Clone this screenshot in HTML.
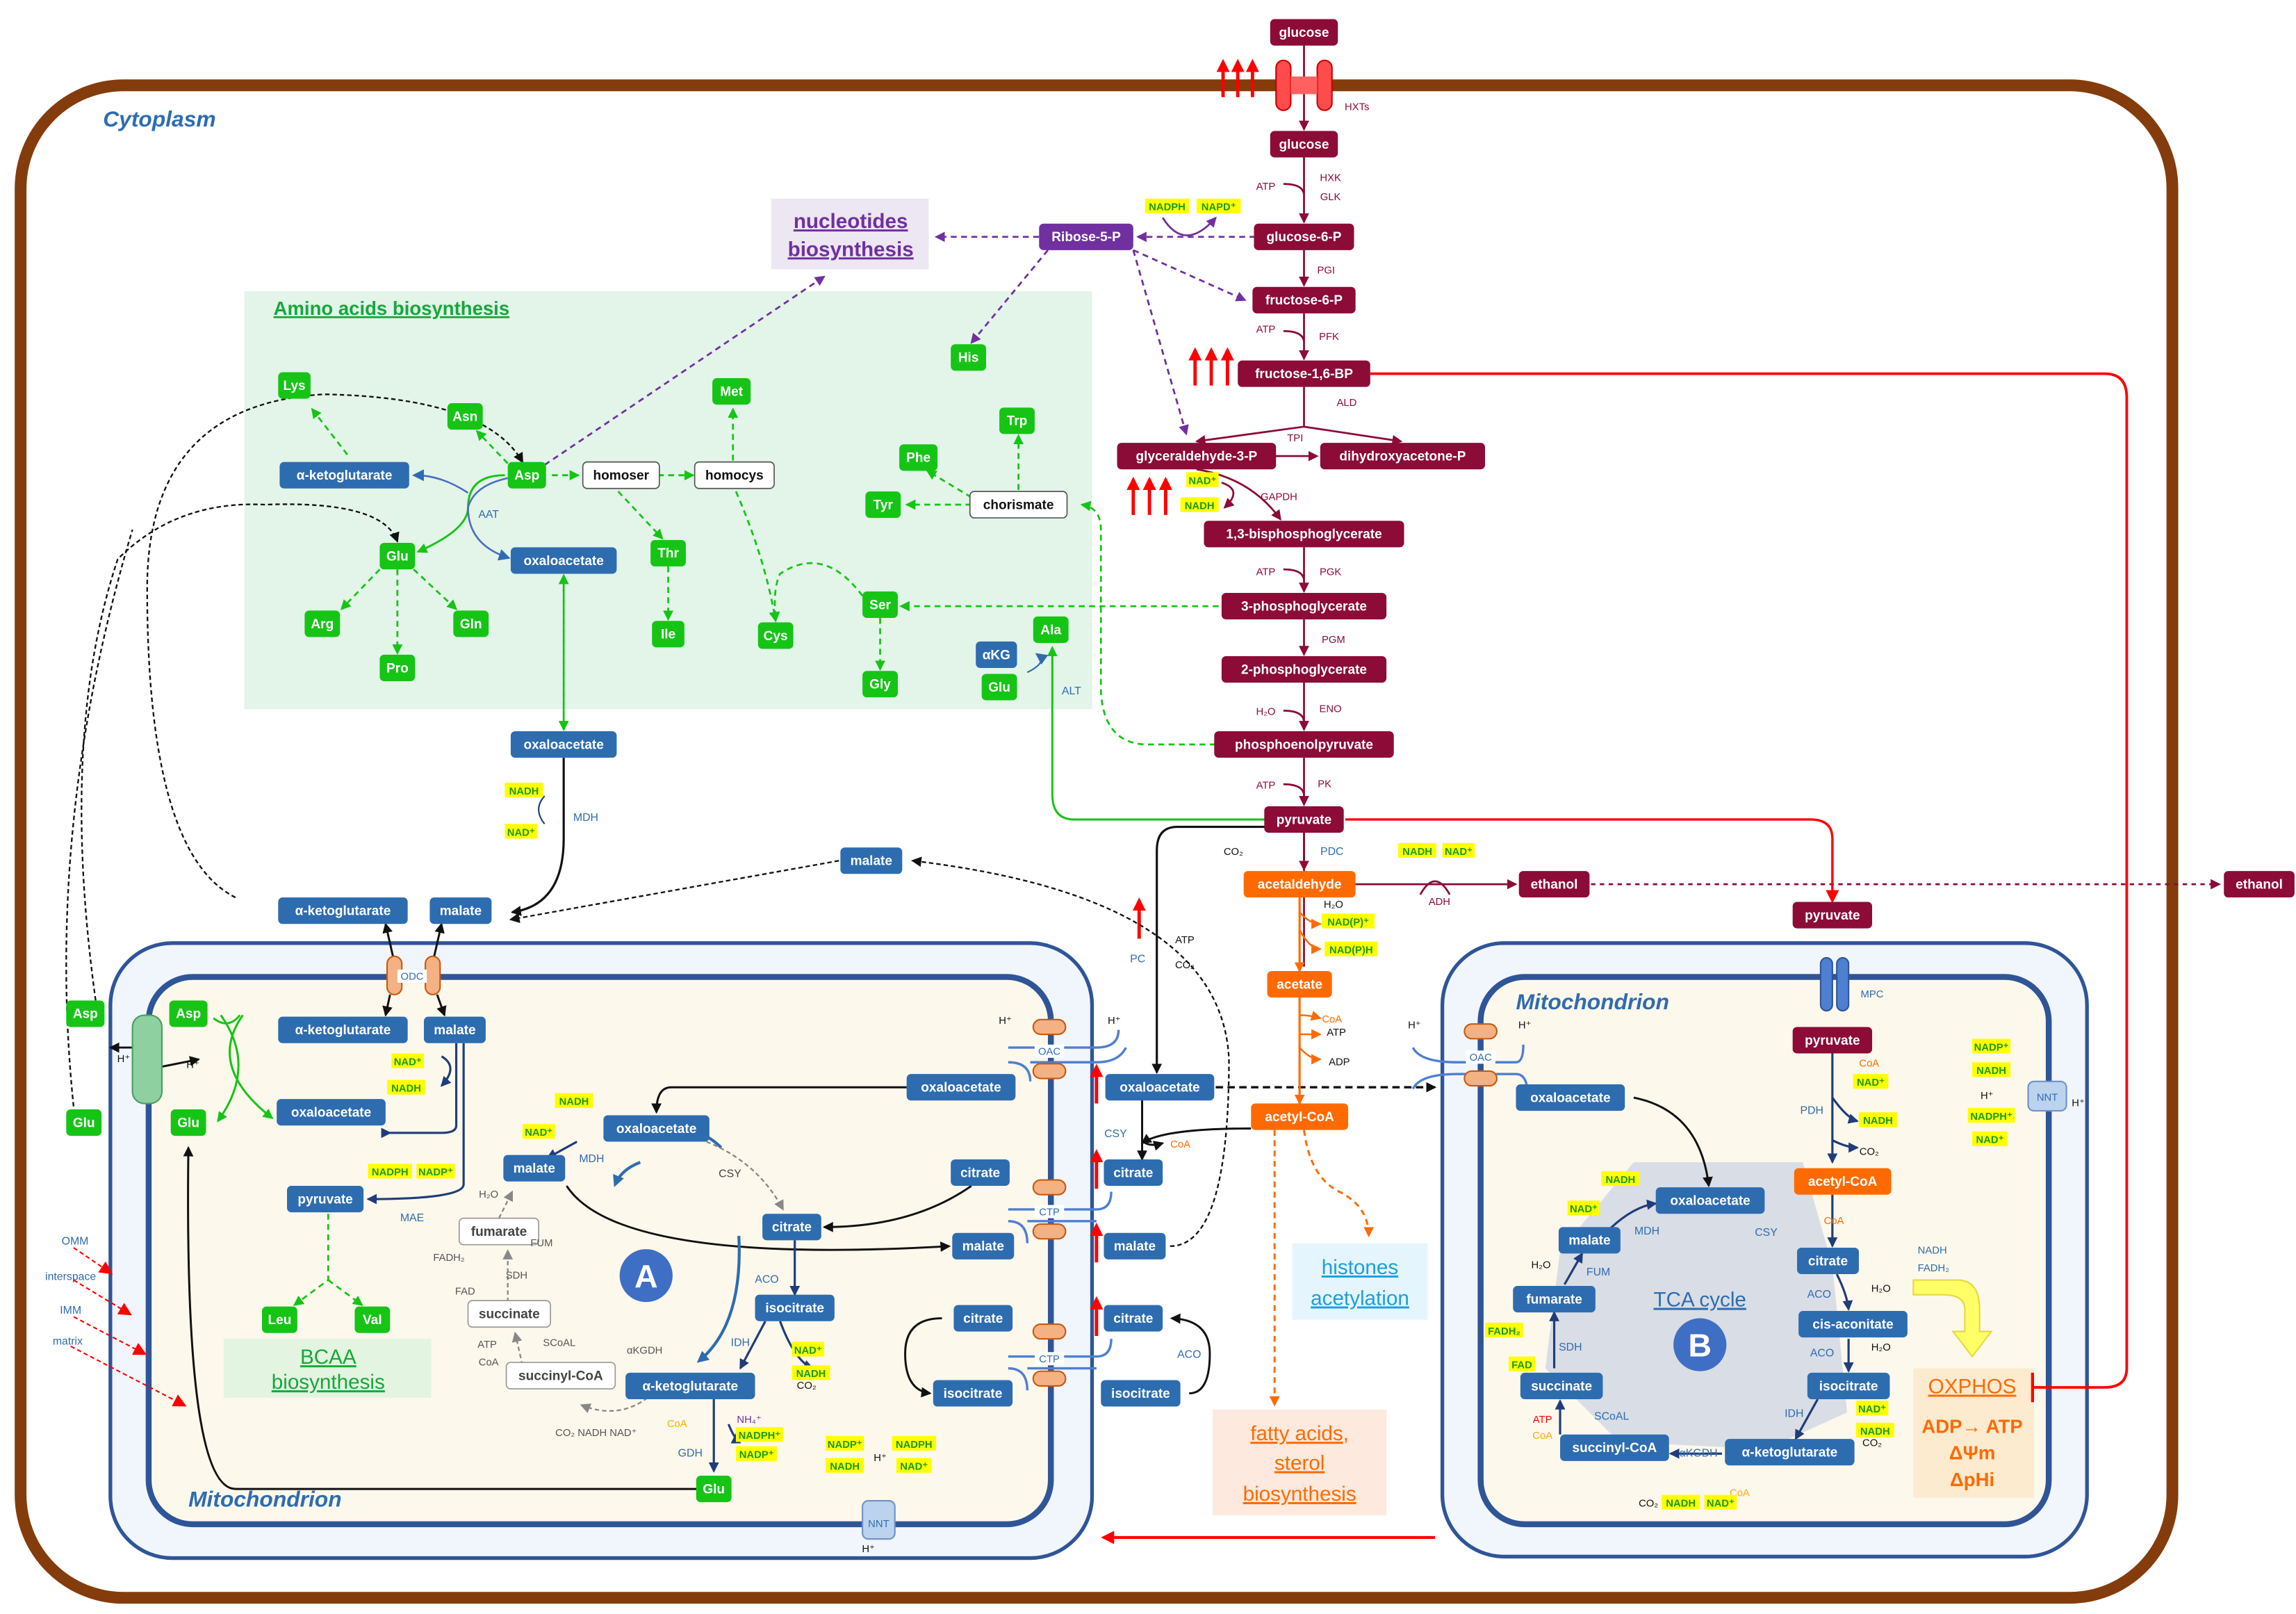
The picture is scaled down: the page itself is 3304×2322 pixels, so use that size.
<!DOCTYPE html>
<html><head><meta charset="utf-8"><style>
html,body{margin:0;padding:0;background:#fff}
svg{display:block}
text{font-family:"Liberation Sans Narrow","Liberation Sans",sans-serif}
.n text{fill:#fff;font-weight:bold;font-size:9px;text-anchor:middle}
.m rect{fill:#8c0b37}.b rect{fill:#2e6cb0}.g rect{fill:#16c416}.o rect{fill:#ff6a00}.p rect{fill:#7030a0}
.w rect{fill:#fff;stroke:#555;stroke-width:.8}.w text{fill:#111}
.gw rect{fill:#fff;stroke:#999;stroke-width:.8}.gw text{fill:#444}
.e{font-size:7.5px;fill:#2e6cb0;text-anchor:middle}
.em{font-size:7px;fill:#8c0b37;text-anchor:middle}
.y{fill:#ffff00}
.yt{font-size:7px;fill:#1a9a1a;font-weight:bold;text-anchor:middle}
.sm{font-size:7px;fill:#111;text-anchor:middle}
.M path{stroke:#8c0b37;fill:none;stroke-width:1.3;marker-end:url(#am)}
.P path{stroke:#7030a0;fill:none;stroke-width:1.3;stroke-dasharray:4,3;marker-end:url(#ap)}
.R path{stroke:#f00;fill:none;stroke-width:2.3;marker-end:url(#ar)}
.G path{stroke:#16c416;fill:none;stroke-width:1.3;stroke-dasharray:4,3;marker-end:url(#ag)}
.N path{stroke:#1f3d7a;fill:none;stroke-width:1.5;marker-end:url(#an)}
.K path{stroke:#111;fill:none;stroke-width:1.4;marker-end:url(#ab)}
.O path{stroke:#ff6a00;fill:none;stroke-width:1.2;marker-end:url(#ao)}
.Y path{stroke:#888;fill:none;stroke-width:1.1;stroke-dasharray:3,2;marker-end:url(#aG)}
.T path{stroke:#f00;fill:none;stroke-width:1;stroke-dasharray:3,2;marker-end:url(#ar)}
</style></head><body>
<svg width="3304" height="2322" viewBox="0 0 1560 1097" preserveAspectRatio="none" xmlns="http://www.w3.org/2000/svg">
<defs>
<marker id="ab" markerUnits="userSpaceOnUse" markerWidth="7" markerHeight="7" refX="6" refY="3.5" orient="auto"><path d="M0,0L7,3.5L0,7z" fill="#111"/></marker>
<marker id="am" markerUnits="userSpaceOnUse" markerWidth="7" markerHeight="7" refX="6" refY="3.5" orient="auto"><path d="M0,0L7,3.5L0,7z" fill="#8c0b37"/></marker>
<marker id="ag" markerUnits="userSpaceOnUse" markerWidth="7" markerHeight="7" refX="6" refY="3.5" orient="auto"><path d="M0,0L7,3.5L0,7z" fill="#16c416"/></marker>
<marker id="ap" markerUnits="userSpaceOnUse" markerWidth="7" markerHeight="7" refX="6" refY="3.5" orient="auto"><path d="M0,0L7,3.5L0,7z" fill="#7030a0"/></marker>
<marker id="ao" markerUnits="userSpaceOnUse" markerWidth="7" markerHeight="7" refX="6" refY="3.5" orient="auto"><path d="M0,0L7,3.5L0,7z" fill="#ff6a00"/></marker>
<marker id="an" markerUnits="userSpaceOnUse" markerWidth="7" markerHeight="7" refX="6" refY="3.5" orient="auto"><path d="M0,0L7,3.5L0,7z" fill="#1f3d7a"/></marker>
<marker id="ar" markerUnits="userSpaceOnUse" markerWidth="9" markerHeight="9" refX="7" refY="4.5" orient="auto"><path d="M0,0L9,4.5L0,9z" fill="#f00"/></marker>
<marker id="al" markerUnits="userSpaceOnUse" markerWidth="8" markerHeight="8" refX="6" refY="4" orient="auto"><path d="M0,0L8,4L0,8z" fill="#2e6cb0"/></marker>
<marker id="aG" markerUnits="userSpaceOnUse" markerWidth="7" markerHeight="7" refX="6" refY="3.5" orient="auto"><path d="M0,0L7,3.5L0,7z" fill="#888"/></marker>
</defs>

<rect x="14" y="58" width="1462" height="1028" rx="70" fill="#fff" stroke="#843c0c" stroke-width="8"/>
<text x="70" y="86" font-size="15" font-style="italic" font-weight="bold" fill="#2e6cb0">Cytoplasm</text>

<rect x="166" y="198" width="576" height="284" fill="#e3f4e9"/>
<text x="266" y="214" font-size="13" font-weight="bold" fill="#16a83a" text-anchor="middle" text-decoration="underline">Amino acids biosynthesis</text>

<rect x="524" y="135" width="107" height="48" fill="#ede6f3"/>
<text x="578" y="155" font-size="14" font-weight="bold" fill="#7030a0" text-anchor="middle" text-decoration="underline">nucleotides</text>
<text x="578" y="174" font-size="14" font-weight="bold" fill="#7030a0" text-anchor="middle" text-decoration="underline">biosynthesis</text>

<rect x="75" y="641" width="667" height="418" rx="42" fill="#f1f5fc" stroke="#2f5597" stroke-width="2.5"/>
<rect x="101" y="664" width="613" height="372" rx="30" fill="#fdf8ec" stroke="#2f5597" stroke-width="4"/>
<text x="128" y="1024" font-size="15" font-style="italic" font-weight="bold" fill="#2e6cb0">Mitochondrion</text>

<rect x="980" y="641" width="438" height="417" rx="42" fill="#f1f5fc" stroke="#2f5597" stroke-width="2.5"/>
<rect x="1006" y="664" width="386" height="372" rx="30" fill="#fdf8ec" stroke="#2f5597" stroke-width="4"/>
<text x="1030" y="686" font-size="15" font-style="italic" font-weight="bold" fill="#2e6cb0">Mitochondrion</text>
<path d="M1110,790 L1225,790 L1245,860 L1255,960 L1200,985 L1100,980 L1050,930 L1060,850 Z" fill="#d9dde5"/>
<text x="1155" y="888" font-size="14" fill="#2e6cb0" text-anchor="middle" text-decoration="underline">TCA cycle</text>
<circle cx="1155" cy="914" r="18" fill="#3f6fc4"/><text x="1155" y="922" font-size="22" font-weight="bold" fill="#fff" text-anchor="middle">B</text>
<circle cx="439" cy="867" r="18" fill="#3f6fc4"/><text x="439" y="875" font-size="22" font-weight="bold" fill="#fff" text-anchor="middle">A</text>

<rect x="878" y="845" width="92" height="52" fill="#e5f5fd"/>
<text x="924" y="866" font-size="14" fill="#1aa0e0" text-anchor="middle" text-decoration="underline">histones</text>
<text x="924" y="887" font-size="14" fill="#1aa0e0" text-anchor="middle" text-decoration="underline">acetylation</text>
<rect x="824" y="958" width="118" height="72" fill="#fde9dd"/>
<text x="883" y="979" font-size="14" fill="#ff6a00" text-anchor="middle" text-decoration="underline">fatty acids,</text>
<text x="883" y="999" font-size="14" fill="#ff6a00" text-anchor="middle" text-decoration="underline">sterol</text>
<text x="883" y="1020" font-size="14" fill="#ff6a00" text-anchor="middle" text-decoration="underline">biosynthesis</text>
<rect x="152" y="910" width="141" height="40" fill="#e3f4e0"/>
<text x="223" y="927" font-size="14" fill="#16a83a" text-anchor="middle" text-decoration="underline">BCAA</text>
<text x="223" y="944" font-size="14" fill="#16a83a" text-anchor="middle" text-decoration="underline">biosynthesis</text>
<rect x="1300" y="930" width="82" height="88" fill="#fdebd0"/>
<text x="1340" y="947" font-size="14" fill="#ff6a00" text-anchor="middle" text-decoration="underline">OXPHOS</text>
<text x="1340" y="974" font-size="13" font-weight="bold" fill="#ff6a00" text-anchor="middle">ADP→ ATP</text>
<text x="1340" y="992" font-size="13" font-weight="bold" fill="#ff6a00" text-anchor="middle">ΔΨm</text>
<text x="1340" y="1010" font-size="13" font-weight="bold" fill="#ff6a00" text-anchor="middle">ΔpHi</text>
<path d="M1300,870 L1330,870 Q1345,870 1345,890 L1345,905 L1353,905 L1340,922 L1327,905 L1335,905 L1335,890 Q1335,880 1320,880 L1300,880 Z" fill="#ffff66" stroke="#e8d840"/>
<text x="1303" y="852" font-size="7" fill="#2e6cb0">NADH</text><text x="1303" y="864" font-size="7" fill="#2e6cb0">FADH₂</text>

<g class="M">
<path d="M886,31V88"/><path d="M886,107V151"/><path d="M886,170V194"/><path d="M886,213V244"/>
<path d="M886,263V290L813,300"/><path d="M886,290L952,300"/><path d="M846,310H895"/><path d="M813,319Q850,325 870,353"/>
<path d="M886,372V402"/><path d="M886,421V445"/><path d="M886,464V496"/><path d="M886,515V547"/><path d="M886,566V591"/>
<path d="M921,601H1030"/><path d="M1081,601H1508" stroke-dasharray="3,3"/>
<path d="M872,125Q885,125 886,132" style="marker-end:none"/><path d="M872,225Q885,225 886,232" style="marker-end:none"/><path d="M872,387Q885,387 886,394" style="marker-end:none"/><path d="M872,533Q885,533 886,540" style="marker-end:none"/><path d="M872,483Q885,483 886,490" style="marker-end:none"/>
<path d="M830,328Q845,333 832,345"/>
<path d="M965,608Q975,590 985,608" style="marker-end:none"/>
</g>
<path d="M886,566V657" stroke="#8c0b37" stroke-width="1.3" fill="none"/>
<g class="P">
<path d="M790,148Q805,172 826,148" style="stroke-dasharray:none"/>
<path d="M853,161H773"/><path d="M706,161H636"/><path d="M770,170L846,204"/><path d="M770,170L806,295"/><path d="M712,170L660,233"/><path d="M370,316L560,188"/>
</g>
<g fill="none">
<path d="M931,254H1430Q1445,254 1445,270V930Q1445,943 1430,943H1382" stroke="#f00" stroke-width="1.8"/>
<path d="M1381,933V953" stroke="#f00" stroke-width="2"/>
</g>
<g class="R">
<path d="M914,557H1230Q1245,557 1245,570V612" style="stroke-width:1.6"/>
<path d="M975,1045H750" style="stroke-width:2"/>
<path d="M774,638V612"/>
<path d="M745,750V725"/><path d="M745,808V783"/><path d="M745,858V833"/><path d="M745,908V883"/>
<path d="M831,66V42"/><path d="M841,66V42"/><path d="M851,66V42"/>
<path d="M812,262V238"/><path d="M823,262V238"/><path d="M834,262V238"/>
<path d="M770,350V326"/><path d="M781,350V326"/><path d="M792,350V326"/>
</g>
<path d="M860,557H730Q715,557 715,540V440" stroke="#16c416" stroke-width="1.4" fill="none" marker-end="url(#ag)"/>
<g class="G">
<path d="M236,309L212,278"/><path d="M345,315L324,293"/><path d="M498,313V278"/><path d="M454,385V421"/><path d="M420,334L450,366"/><path d="M500,334Q520,380 527,422"/><path d="M598,420V455"/><path d="M692,333V296"/><path d="M660,343H616"/><path d="M660,338L630,320"/>
<path d="M828,412H612"/><path d="M826,506H780Q750,506 748,470L748,360Q748,345 735,343"/><path d="M586,405Q560,370 530,390Q525,400 527,422"/>
<path d="M383,391V496"/><path d="M383,496V391"/><path d="M258,387L232,414"/><path d="M270,387V444"/><path d="M281,387L310,414"/><path d="M375,323H393"/><path d="M447,323H471"/>
<path d="M223,825V870L200,887"/><path d="M223,870L246,887"/>
</g>
<path d="M343,323Q318,323 318,345Q318,360 284,375" stroke="#16c416" stroke-width="1.4" fill="none" marker-end="url(#ag)"/>
<path d="M150,690Q175,725 148,762" stroke="#16c416" stroke-width="1.4" fill="none" marker-end="url(#ag)"/>
<path d="M165,690Q140,725 185,760" stroke="#16c416" stroke-width="1.4" fill="none" marker-end="url(#ag)"/>
<path d="M163,690Q155,700 145,692" stroke="#16c416" stroke-width="1.4" fill="none"/>
<path d="M698,457Q712,450 705,445" stroke="#2e6cb0" fill="none" marker-end="url(#al)"/>
<path d="M345,325Q322,330 318,345Q318,370 345,379" stroke="#4a6dc0" stroke-width="1.2" fill="none" marker-end="url(#al)"/>
<path d="M318,335Q300,323 282,323" stroke="#4a6dc0" stroke-width="1.2" fill="none" marker-end="url(#al)"/>
<g class="K">
<path d="M160,610Q100,580 100,400Q100,275 220,268Q330,270 355,314" stroke-dasharray="3,2" style="stroke-width:1.1"/>
<path d="M65,680Q40,500 80,380Q120,340 180,343Q260,340 270,368" stroke-dasharray="3,2" style="stroke-width:1.1"/>
<path d="M50,752Q30,560 90,360" stroke-dasharray="3,2" style="marker-end:none;stroke-width:1.1"/>
<path d="M570,585L347,625" stroke-dasharray="3,2" style="stroke-width:1.1"/>
<path d="M795,847Q835,847 835,720Q830,610 620,585" stroke-dasharray="3,2" style="stroke-width:1.1"/>
<path d="M826,739H975" stroke-dasharray="5,3" style="stroke-width:1.6"/>
<path d="M383,515V570Q383,615 348,620" style="stroke-width:1.5"/>
<path d="M860,562H800Q786,562 786,578V729" style="stroke-width:1.5"/>
<path d="M850,767Q790,767 776,777"/><path d="M776,747V788"/><path d="M776,775Q780,780 790,777"/>
<path d="M486,1012H160Q125,1012 128,780"/>
<path d="M616,739H456Q446,739 446,756"/>
<path d="M660,806Q620,834 560,834"/>
<path d="M385,806Q420,860 645,847"/>
<path d="M640,896Q615,896 615,920Q615,945 632,947"/>
<path d="M808,947Q822,947 822,920Q822,897 796,896"/>
<path d="M1110,746Q1155,755 1161,806"/>
<path d="M267,650L262,628"/><path d="M295,650L300,628"/><path d="M265,676L262,690"/><path d="M297,676L302,690"/>
<path d="M110,712L75,712"/><path d="M110,725L135,720"/>
</g>
<path d="M370,541Q362,550 370,560" stroke="#1f3d7a" fill="none"/>
<g class="N">
<path d="M540,843V880"/><path d="M520,898L503,930"/><path d="M310,709V765Q310,770 300,770Q260,770 265,770"/><path d="M300,718Q312,725 300,738"/><path d="M315,709V805Q315,815 250,815"/><path d="M485,951V1000"/>
<path d="M1245,716V790"/><path d="M1245,746Q1255,760 1262,762"/><path d="M1245,775Q1255,780 1262,780"/><path d="M1245,812V847"/><path d="M1248,866Q1255,880 1256,890"/><path d="M1256,910V932"/><path d="M1235,951L1220,978"/><path d="M1170,988L1135,988"/><path d="M1060,975V952"/><path d="M1056,930V892"/><path d="M1063,873L1075,852"/><path d="M1094,835Q1110,820 1125,818"/><path d="M392,776L372,787"/>
<path d="M530,898Q540,925 552,930"/><path d="M495,968Q500,980 500,975"/>
</g>
<path d="M445,775Q470,760 490,780" stroke="#2e6cb0" stroke-width="2" fill="none"/>
<path d="M435,790Q422,795 418,805" stroke="#2e6cb0" stroke-width="2" fill="none" marker-end="url(#al)"/>
<path d="M502,840Q505,900 475,925" stroke="#2e6cb0" stroke-width="2" fill="none" marker-end="url(#al)"/>
<g class="Y">
<path d="M480,776Q515,790 532,822"/><path d="M345,885V850"/><path d="M355,928L350,906"/><path d="M440,950Q420,965 395,955"/><path d="M339,828L348,810"/>
</g>
<g class="O">
<path d="M883,610V660" style="stroke-width:1.5"/><path d="M883,678V750" style="stroke-width:1.5"/>
<path d="M883,620Q890,628 897,628"/><path d="M883,632Q890,645 897,645"/><path d="M883,690Q890,690 897,692"/><path d="M883,703Q890,703 897,703"/><path d="M883,712Q890,720 897,720"/>
<path d="M866,768V955" stroke-dasharray="4,3" style="stroke-width:1.4"/>
<path d="M886,768Q890,800 910,810Q930,820 930,840" stroke-dasharray="4,3" style="stroke-width:1.4"/>
</g>
<g fill="none" stroke="#4f7fd0" stroke-width="1.6">
<path d="M685,712H745Q760,712 760,700"/><path d="M685,722Q700,722 700,735M700,722H745Q760,722 765,712"/>
<path d="M685,822H745Q755,822 755,810"/><path d="M685,830Q698,830 698,845M698,830H745"/>
<path d="M685,922H745Q755,922 755,910"/><path d="M685,930Q698,930 698,945M698,930H745"/>
<path d="M960,712Q965,722 990,722H1030Q1035,722 1035,710"/><path d="M960,740Q965,730 990,730H1030Q1038,730 1038,745"/>
</g>
<g class="T">
<path d="M50,848L75,865"/><path d="M50,870L88,893"/><path d="M50,895L98,920"/><path d="M48,915L125,955"/>
</g>

<g>
<rect x="867" y="41" width="10" height="34" rx="5" fill="#ff4b4b" stroke="#c00"/><rect x="895" y="41" width="10" height="34" rx="5" fill="#ff4b4b" stroke="#c00"/><rect x="877" y="52" width="18" height="12" fill="#ff6060"/>
<rect x="1237" y="651" width="8" height="36" rx="4" fill="#4f7fd0" stroke="#2f5597"/><rect x="1248" y="651" width="8" height="36" rx="4" fill="#4f7fd0" stroke="#2f5597"/>
<rect x="263" y="650" width="10" height="26" rx="5" fill="#f4b183" stroke="#c55a11"/><rect x="289" y="650" width="10" height="26" rx="5" fill="#f4b183" stroke="#c55a11"/>
<rect x="90" y="690" width="20" height="60" rx="8" fill="#8fd0a0" stroke="#4a9d60"/>
<g fill="#f4b183" stroke="#c55a11"><rect x="702" y="693" width="22" height="10" rx="5"/><rect x="702" y="723" width="22" height="10" rx="5"/><rect x="702" y="802" width="22" height="10" rx="5"/><rect x="702" y="832" width="22" height="10" rx="5"/><rect x="702" y="900" width="22" height="10" rx="5"/><rect x="702" y="932" width="22" height="10" rx="5"/><rect x="995" y="696" width="22" height="10" rx="5"/><rect x="995" y="728" width="22" height="10" rx="5"/></g>
<rect x="586" y="1020" width="22" height="26" rx="4" fill="#bcd3ee" stroke="#6f91c8"/>
<rect x="1378" y="735" width="26" height="20" rx="4" fill="#bcd3ee" stroke="#6f91c8"/>
</g>
<g font-size="7" fill="#2e6cb0" text-anchor="middle"><rect x="270" y="659" width="20" height="9" fill="#fff"/><text x="280" y="666">ODC</text><rect x="703" y="710" width="20" height="9" fill="#fff"/><text x="713" y="717">OAC</text><rect x="703" y="819" width="20" height="9" fill="#fff"/><text x="713" y="826">CTP</text><rect x="703" y="919" width="20" height="9" fill="#fff"/><text x="713" y="926">CTP</text><rect x="996" y="714" width="20" height="9" fill="#fff"/><text x="1006" y="721">OAC</text><text x="597" y="1038">NNT</text><text x="1391" y="748">NNT</text><text x="1272" y="678">MPC</text></g>

<g class="n m">
<rect x="863" y="13" width="46" height="18" rx="3"/><text x="886" y="25">glucose</text>
<rect x="863" y="89" width="46" height="18" rx="3"/><text x="886" y="101">glucose</text>
<rect x="852" y="152" width="68" height="18" rx="3"/><text x="886" y="164">glucose-6-P</text>
<rect x="851" y="195" width="70" height="18" rx="3"/><text x="886" y="207">fructose-6-P</text>
<rect x="841" y="245" width="90" height="18" rx="3"/><text x="886" y="257">fructose-1,6-BP</text>
<rect x="759" y="301" width="108" height="18" rx="3"/><text x="813" y="313">glyceraldehyde-3-P</text>
<rect x="897" y="301" width="112" height="18" rx="3"/><text x="953" y="313">dihydroxyacetone-P</text>
<rect x="818" y="354" width="136" height="18" rx="3"/><text x="886" y="366">1,3-bisphosphoglycerate</text>
<rect x="830" y="403" width="112" height="18" rx="3"/><text x="886" y="415">3-phosphoglycerate</text>
<rect x="830" y="446" width="112" height="18" rx="3"/><text x="886" y="458">2-phosphoglycerate</text>
<rect x="825" y="497" width="122" height="18" rx="3"/><text x="886" y="509">phosphoenolpyruvate</text>
<rect x="859" y="548" width="54" height="18" rx="3"/><text x="886" y="560">pyruvate</text>
<rect x="1032" y="592" width="48" height="18" rx="3"/><text x="1056" y="604">ethanol</text>
<rect x="1511" y="592" width="48" height="18" rx="3"/><text x="1535" y="604">ethanol</text>
<rect x="1218" y="613" width="54" height="18" rx="3"/><text x="1245" y="625">pyruvate</text>
<rect x="1218" y="698" width="54" height="18" rx="3"/><text x="1245" y="710">pyruvate</text>
</g>
<g class="n p"><rect x="706" y="152" width="64" height="18" rx="3"/><text x="738" y="164">Ribose-5-P</text></g>
<g class="n o">
<rect x="845" y="592" width="76" height="18" rx="3"/><text x="883" y="604">acetaldehyde</text>
<rect x="861" y="660" width="44" height="18" rx="3"/><text x="883" y="672">acetate</text>
<rect x="850" y="750" width="66" height="18" rx="3"/><text x="883" y="762">acetyl-CoA</text>
<rect x="1219" y="794" width="66" height="18" rx="3"/><text x="1252" y="806">acetyl-CoA</text>
</g>
<g class="n b">
<rect x="190" y="314" width="88" height="18" rx="3"/><text x="234" y="326">α-ketoglutarate</text>
<rect x="347" y="372" width="72" height="18" rx="3"/><text x="383" y="384">oxaloacetate</text>
<rect x="347" y="497" width="72" height="18" rx="3"/><text x="383" y="509">oxaloacetate</text>
<rect x="663" y="436" width="28" height="18" rx="3"/><text x="677" y="448">αKG</text>
<rect x="189" y="610" width="88" height="18" rx="3"/><text x="233" y="622">α-ketoglutarate</text>
<rect x="292" y="610" width="42" height="18" rx="3"/><text x="313" y="622">malate</text>
<rect x="571" y="576" width="42" height="18" rx="3"/><text x="592" y="588">malate</text>
<rect x="189" y="691" width="88" height="18" rx="3"/><text x="233" y="703">α-ketoglutarate</text>
<rect x="288" y="691" width="42" height="18" rx="3"/><text x="309" y="703">malate</text>
<rect x="188" y="747" width="74" height="18" rx="3"/><text x="225" y="759">oxaloacetate</text>
<rect x="195" y="806" width="52" height="18" rx="3"/><text x="221" y="818">pyruvate</text>
<rect x="410" y="758" width="72" height="18" rx="3"/><text x="446" y="770">oxaloacetate</text>
<rect x="342" y="785" width="42" height="18" rx="3"/><text x="363" y="797">malate</text>
<rect x="518" y="825" width="40" height="18" rx="3"/><text x="538" y="837">citrate</text>
<rect x="513" y="880" width="54" height="18" rx="3"/><text x="540" y="892">isocitrate</text>
<rect x="425" y="933" width="88" height="18" rx="3"/><text x="469" y="945">α-ketoglutarate</text>
<rect x="616" y="730" width="74" height="18" rx="3"/><text x="653" y="742">oxaloacetate</text>
<rect x="646" y="788" width="40" height="18" rx="3"/><text x="666" y="800">citrate</text>
<rect x="647" y="838" width="42" height="18" rx="3"/><text x="668" y="850">malate</text>
<rect x="648" y="887" width="40" height="18" rx="3"/><text x="668" y="899">citrate</text>
<rect x="634" y="938" width="54" height="18" rx="3"/><text x="661" y="950">isocitrate</text>
<rect x="751" y="730" width="74" height="18" rx="3"/><text x="788" y="742">oxaloacetate</text>
<rect x="750" y="788" width="40" height="18" rx="3"/><text x="770" y="800">citrate</text>
<rect x="750" y="838" width="42" height="18" rx="3"/><text x="771" y="850">malate</text>
<rect x="750" y="887" width="40" height="18" rx="3"/><text x="770" y="899">citrate</text>
<rect x="748" y="938" width="54" height="18" rx="3"/><text x="775" y="950">isocitrate</text>
<rect x="1030" y="737" width="74" height="18" rx="3"/><text x="1067" y="749">oxaloacetate</text>
<rect x="1125" y="807" width="74" height="18" rx="3"/><text x="1162" y="819">oxaloacetate</text>
<rect x="1059" y="834" width="42" height="18" rx="3"/><text x="1080" y="846">malate</text>
<rect x="1028" y="874" width="56" height="18" rx="3"/><text x="1056" y="886">fumarate</text>
<rect x="1033" y="933" width="56" height="18" rx="3"/><text x="1061" y="945">succinate</text>
<rect x="1060" y="975" width="74" height="18" rx="3"/><text x="1097" y="987">succinyl-CoA</text>
<rect x="1172" y="978" width="88" height="18" rx="3"/><text x="1216" y="990">α-ketoglutarate</text>
<rect x="1228" y="933" width="56" height="18" rx="3"/><text x="1256" y="945">isocitrate</text>
<rect x="1222" y="891" width="74" height="18" rx="3"/><text x="1259" y="903">cis-aconitate</text>
<rect x="1221" y="848" width="42" height="18" rx="3"/><text x="1242" y="860">citrate</text>
</g>
<g class="n g">
<rect x="189" y="253" width="22" height="18" rx="3"/><text x="200" y="265">Lys</text>
<rect x="304" y="274" width="24" height="18" rx="3"/><text x="316" y="286">Asn</text>
<rect x="345" y="314" width="26" height="18" rx="3"/><text x="358" y="326">Asp</text>
<rect x="484" y="257" width="26" height="18" rx="3"/><text x="497" y="269">Met</text>
<rect x="646" y="234" width="24" height="18" rx="3"/><text x="658" y="246">His</text>
<rect x="679" y="277" width="24" height="18" rx="3"/><text x="691" y="289">Trp</text>
<rect x="611" y="302" width="26" height="18" rx="3"/><text x="624" y="314">Phe</text>
<rect x="588" y="334" width="24" height="18" rx="3"/><text x="600" y="346">Tyr</text>
<rect x="258" y="369" width="24" height="18" rx="3"/><text x="270" y="381">Glu</text>
<rect x="442" y="367" width="24" height="18" rx="3"/><text x="454" y="379">Thr</text>
<rect x="443" y="422" width="22" height="18" rx="3"/><text x="454" y="434">Ile</text>
<rect x="207" y="415" width="24" height="18" rx="3"/><text x="219" y="427">Arg</text>
<rect x="308" y="415" width="24" height="18" rx="3"/><text x="320" y="427">Gln</text>
<rect x="258" y="445" width="24" height="18" rx="3"/><text x="270" y="457">Pro</text>
<rect x="515" y="423" width="24" height="18" rx="3"/><text x="527" y="435">Cys</text>
<rect x="586" y="402" width="24" height="18" rx="3"/><text x="598" y="414">Ser</text>
<rect x="586" y="456" width="24" height="18" rx="3"/><text x="598" y="468">Gly</text>
<rect x="702" y="419" width="24" height="18" rx="3"/><text x="714" y="431">Ala</text>
<rect x="667" y="458" width="24" height="18" rx="3"/><text x="679" y="470">Glu</text>
<rect x="45" y="680" width="26" height="18" rx="3"/><text x="58" y="692">Asp</text>
<rect x="45" y="754" width="24" height="18" rx="3"/><text x="57" y="766">Glu</text>
<rect x="115" y="680" width="26" height="18" rx="3"/><text x="128" y="692">Asp</text>
<rect x="116" y="754" width="24" height="18" rx="3"/><text x="128" y="766">Glu</text>
<rect x="473" y="1003" width="24" height="18" rx="3"/><text x="485" y="1015">Glu</text>
<rect x="178" y="888" width="24" height="18" rx="3"/><text x="190" y="900">Leu</text>
<rect x="241" y="888" width="24" height="18" rx="3"/><text x="253" y="900">Val</text>
</g>
<g class="n w">
<rect x="396" y="314" width="52" height="18" rx="3"/><text x="422" y="326">homoser</text>
<rect x="472" y="314" width="54" height="18" rx="3"/><text x="499" y="326">homocys</text>
<rect x="659" y="334" width="66" height="18" rx="3"/><text x="692" y="346">chorismate</text>
</g>
<g class="n gw">
<rect x="312" y="828" width="54" height="18" rx="3"/><text x="339" y="840">fumarate</text>
<rect x="318" y="884" width="56" height="18" rx="3"/><text x="346" y="896">succinate</text>
<rect x="344" y="926" width="74" height="18" rx="3"/><text x="381" y="938">succinyl-CoA</text>
</g>

<g class="em">
<text x="922" y="75">HXTs</text><text x="904" y="123">HXK</text><text x="904" y="136">GLK</text><text x="901" y="186">PGI</text><text x="903" y="231">PFK</text><text x="915" y="276">ALD</text><text x="880" y="300">TPI</text><text x="869" y="340">GAPDH</text><text x="904" y="391">PGK</text><text x="906" y="437">PGM</text><text x="904" y="484">ENO</text><text x="900" y="535">PK</text><text x="978" y="615">ADH</text>
<text x="860" y="129">ATP</text><text x="860" y="226">ATP</text><text x="860" y="391">ATP</text><text x="860" y="486">H₂O</text><text x="860" y="536">ATP</text>
</g>
<g class="e">
<text x="332" y="352">AAT</text><text x="398" y="558">MDH</text><text x="728" y="472">ALT</text><text x="773" y="654">PC</text><text x="905" y="581">PDC</text><text x="280" y="830">MAE</text><text x="402" y="790">MDH</text><text x="496" y="800" fill="#444">CSY</text><text x="521" y="872">ACO</text><text x="503" y="915">IDH</text><text x="469" y="990">GDH</text><text x="758" y="773">CSY</text><text x="808" y="923">ACO</text><text x="1231" y="757">PDH</text><text x="1119" y="839">MDH</text><text x="1086" y="867">FUM</text><text x="1067" y="918">SDH</text><text x="1095" y="965">SCoAL</text><text x="1154" y="990">αKGDH</text><text x="1219" y="963">IDH</text><text x="1238" y="922">ACO</text><text x="1236" y="882">ACO</text><text x="1200" y="840">CSY</text>
<text x="51" y="846">OMM</text><text x="48" y="870">interspace</text><text x="48" y="893">IMM</text><text x="46" y="914">matrix</text>
</g>
<g class="sm">
<text x="368" y="847" fill="#555">FUM</text><text x="351" y="869" fill="#555">SDH</text><text x="380" y="915" fill="#555">SCoAL</text><text x="438" y="920" fill="#555">αKGDH</text><text x="332" y="814" fill="#555">H₂O</text><text x="305" y="857" fill="#555">FADH₂</text><text x="316" y="880" fill="#555">FAD</text><text x="331" y="916" fill="#555">ATP</text><text x="332" y="928" fill="#555">CoA</text><text x="405" y="976" fill="#555">CO₂ NADH NAD⁺</text>
<text x="805" y="641">ATP</text><text x="805" y="658">CO₂</text><text x="838" y="581">CO₂</text><text x="906" y="617">H₂O</text><text x="910" y="724">ADP</text><text x="908" y="704">ATP</text>
<text x="683" y="696">H⁺</text><text x="757" y="696">H⁺</text><text x="961" y="699">H⁺</text><text x="1036" y="699">H⁺</text><text x="84" y="722">H⁺</text><text x="131" y="726">H⁺</text><text x="598" y="993">H⁺</text><text x="590" y="1055">H⁺</text><text x="1350" y="747">H⁺</text><text x="1412" y="752">H⁺</text>
<text x="548" y="944">CO₂</text><text x="1270" y="785">CO₂</text><text x="1272" y="983">CO₂</text><text x="1278" y="878">H₂O</text><text x="1278" y="918">H₂O</text><text x="1047" y="862">H₂O</text><text x="1120" y="1024">CO₂</text>
</g>
<g font-size="7" text-anchor="middle">
<text x="905" y="695" fill="#ff6a00">CoA</text><text x="802" y="780" fill="#ff6a00">CoA</text><text x="1270" y="725" fill="#ff6a00">CoA</text><text x="1246" y="832" fill="#ff6a00">CoA</text><text x="1048" y="967" fill="#f00">ATP</text><text x="1048" y="978" fill="#ffaa00">CoA</text><text x="460" y="970" fill="#ffaa00">CoA</text><text x="509" y="967" fill="#7030a0">NH₄⁺</text><text x="1182" y="1017" fill="#ffaa00">CoA</text>
</g>
<g>
<g class="y"><rect x="778" y="135" width="30" height="10"/><rect x="813" y="135" width="30" height="10"/><rect x="806" y="321" width="22" height="10"/><rect x="802" y="338" width="26" height="10"/><rect x="950" y="573" width="26" height="10"/><rect x="980" y="573" width="22" height="10"/><rect x="898" y="621" width="36" height="10"/><rect x="900" y="640" width="36" height="10"/><rect x="343" y="532" width="26" height="10"/><rect x="343" y="560" width="22" height="10"/><rect x="266" y="716" width="22" height="10"/><rect x="263" y="734" width="26" height="10"/><rect x="250" y="791" width="30" height="10"/><rect x="283" y="791" width="26" height="10"/><rect x="377" y="743" width="26" height="10"/><rect x="355" y="764" width="22" height="10"/><rect x="538" y="912" width="22" height="10"/><rect x="538" y="928" width="26" height="10"/><rect x="500" y="970" width="32" height="10"/><rect x="500" y="983" width="28" height="10"/><rect x="561" y="976" width="26" height="10"/><rect x="561" y="991" width="26" height="10"/><rect x="606" y="976" width="30" height="10"/><rect x="609" y="991" width="24" height="10"/><rect x="1259" y="730" width="24" height="10"/><rect x="1263" y="756" width="26" height="10"/><rect x="1088" y="796" width="26" height="10"/><rect x="1065" y="816" width="22" height="10"/><rect x="1261" y="952" width="22" height="10"/><rect x="1261" y="967" width="26" height="10"/><rect x="1009" y="899" width="26" height="10"/><rect x="1025" y="922" width="18" height="10"/><rect x="1129" y="1016" width="26" height="10"/><rect x="1158" y="1016" width="22" height="10"/><rect x="1340" y="706" width="26" height="10"/><rect x="1340" y="722" width="26" height="10"/><rect x="1337" y="753" width="32" height="10"/><rect x="1340" y="769" width="24" height="10"/></g>
<g class="yt">
<text x="793" y="143">NADPH</text><text x="828" y="143">NAPD⁺</text><text x="817" y="329">NAD⁺</text><text x="815" y="346">NADH</text><text x="963" y="581">NADH</text><text x="991" y="581">NAD⁺</text><text x="916" y="629">NAD(P)⁺</text><text x="918" y="648">NAD(P)H</text><text x="356" y="540">NADH</text><text x="354" y="568">NAD⁺</text><text x="277" y="724">NAD⁺</text><text x="276" y="742">NADH</text><text x="265" y="799">NADPH</text><text x="296" y="799">NADP⁺</text><text x="390" y="751">NADH</text><text x="366" y="772">NAD⁺</text><text x="549" y="920">NAD⁺</text><text x="551" y="936">NADH</text><text x="516" y="978">NADPH⁺</text><text x="514" y="991">NADP⁺</text><text x="574" y="984">NADP⁺</text><text x="574" y="999">NADH</text><text x="621" y="984">NADPH</text><text x="621" y="999">NAD⁺</text><text x="1271" y="738">NAD⁺</text><text x="1276" y="764">NADH</text><text x="1101" y="804">NADH</text><text x="1076" y="824">NAD⁺</text><text x="1272" y="960">NAD⁺</text><text x="1274" y="975">NADH</text><text x="1022" y="907">FADH₂</text><text x="1034" y="930">FAD</text><text x="1142" y="1024">NADH</text><text x="1169" y="1024">NAD⁺</text><text x="1353" y="714">NADP⁺</text><text x="1353" y="730">NADH</text><text x="1353" y="761">NADPH⁺</text><text x="1352" y="777">NAD⁺</text>
</g>
</g>
</svg>
</body></html>
